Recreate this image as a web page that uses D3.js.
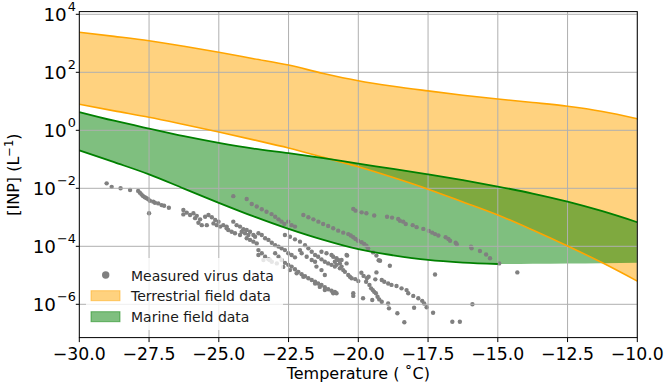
<!DOCTYPE html>
<html lang="en">
<head>
<meta charset="UTF-8">
<title>INP concentration vs temperature</title>
<script src="https://d3js.org/d3.v7.min.js"></script>
<style>
  body { margin: 0; background: #fff; }
  svg { display: block; font-family: "DejaVu Sans", sans-serif; }
</style>
</head>
<body>
<svg width="669" height="389"></svg>
<script>
// temperatures (deg C) at which the field-data envelopes were read
const temps = [-30, -28.75, -27.5, -26.25, -25, -23.75, -22.5, -21.25, -20, -18.75, -17.5, -16.25, -15, -13.75, -12.5, -11.25, -10];
// envelope values as log10([INP] per litre)
const terrUpper = [3.38, 3.24, 3.09, 2.90, 2.69, 2.47, 2.25, 1.96, 1.71, 1.52, 1.36, 1.21, 1.08, 0.96, 0.83, 0.65, 0.40];
const terrLower = [0.90, 0.67, 0.45, 0.20, -0.06, -0.33, -0.61, -0.93, -1.26, -1.63, -2.03, -2.47, -2.92, -3.44, -3.99, -4.57, -5.20];
const marUpper  = [0.63, 0.33, 0.06, -0.20, -0.43, -0.63, -0.79, -0.96, -1.15, -1.33, -1.52, -1.72, -1.94, -2.18, -2.46, -2.79, -3.17];
// marine lower edge: the line stops at -15, the shading goes on flat to -10
const marLower  = [-0.69, -1.10, -1.52, -2.01, -2.50, -2.97, -3.40, -3.78, -4.10, -4.31, -4.47, -4.56, -4.61, -4.60, -4.59, -4.58, -4.57];
const marLineEnd = -15;

// measured virus data: [temperature, log10 INP]
const virusPoints = [
  [-29.02,-1.83],[-28.84,-1.95],[-28.52,-2.00],[-28.18,-2.06],[-27.89,-2.09],[-27.83,-2.15],[-27.77,-2.21],[-27.71,-2.27],
  [-27.65,-2.31],[-27.59,-2.34],[-27.53,-2.38],[-27.47,-2.43],[-27.35,-2.46],[-27.29,-2.50],[-27.17,-2.52],[-27.05,-2.58],
  [-26.96,-2.60],[-26.79,-2.67],[-27.50,-2.86],
  [-26.27,-2.75],[-26.15,-2.84],[-26.03,-2.92],[-25.91,-2.86],[-25.79,-2.95],[-25.85,-3.03],[-25.67,-3.07],[-25.73,-3.19],
  [-25.49,-2.98],[-25.37,-2.92],[-25.25,-3.00],[-25.13,-3.09],[-25.19,-3.21],[-25.07,-3.27],[-25.01,-3.15],[-24.95,-3.32],
  [-24.84,-3.27],[-24.72,-3.32],[-24.66,-3.44],[-24.54,-3.50],[-24.42,-3.55],[-24.48,-3.15],[-24.36,-3.27],[-24.24,-3.32],
  [-24.12,-3.41],[-24.18,-3.50],[-24.06,-3.55],[-23.94,-3.61],[-24.00,-3.72],[-23.88,-3.78],[-23.76,-3.84],[-23.64,-3.90],
  [-23.70,-3.67],[-23.58,-3.55],[-23.46,-3.61],[-23.34,-3.72],[-23.22,-3.78],[-23.10,-3.88],[-22.98,-3.96],[-22.86,-4.01],
  [-22.75,-4.07],[-22.63,-4.13],[-22.51,-4.24],[-22.39,-4.30],[-22.27,-4.38],
  [-24.72,-3.38],[-24.24,-3.61],[-24.00,-3.44],[-23.88,-3.50],[-23.76,-3.61],[-26.27,-2.90],[-25.61,-3.27],[-25.43,-3.27],
  [-23.58,-4.13],[-23.46,-4.24],[-23.34,-4.36],[-23.22,-4.45],[-23.10,-4.53],[-23.40,-4.47],[-23.58,-4.30],[-23.17,-4.47],
  [-22.98,-4.24],[-22.86,-4.36],[-22.75,-4.47],[-22.63,-4.57],[-22.51,-4.64],[-22.39,-4.70],[-22.27,-4.79],[-22.15,-4.88],
  [-22.03,-4.96],[-21.91,-5.03],[-21.79,-5.10],[-21.67,-5.16],[-21.55,-5.22],[-21.44,-5.28],[-21.32,-5.33],[-21.20,-5.41],
  [-21.08,-5.48],[-20.96,-5.53],[-20.84,-5.57],
  [-22.92,-4.59],[-22.69,-4.71],[-22.45,-4.82],[-22.21,-4.93],[-21.97,-5.05],[-21.55,-5.28],[-21.38,-5.40],[-21.20,-5.51],[-20.90,-5.62],
  [-22.63,-3.61],[-22.45,-3.67],[-22.27,-3.76],[-22.09,-3.84],[-21.91,-3.96],[-21.79,-4.07],[-21.67,-4.19],[-21.55,-4.30],
  [-21.44,-4.36],[-21.32,-4.45],[-21.20,-4.53],[-21.08,-4.59],[-20.96,-4.64],[-20.84,-4.70],[-20.66,-4.76],[-20.48,-4.88],
  [-22.03,-4.24],[-21.85,-4.36],[-21.67,-4.47],[-21.55,-4.53],
  [-21.32,-4.19],[-21.14,-4.24],[-20.96,-4.30],[-20.78,-4.41],[-20.60,-4.47],[-20.42,-4.59],
  [-22.09,-4.13],[-21.50,-4.70],[-21.32,-4.82],[-21.20,-4.99],
  [-24.48,-2.27],[-24.00,-2.37],[-23.82,-2.54],[-23.64,-2.63],[-23.46,-2.72],[-23.29,-2.81],[-23.11,-2.89],[-22.98,-2.98],
  [-22.86,-3.07],[-22.75,-3.15],[-22.65,-3.23],[-22.51,-3.15],[-22.39,-3.27],[-22.27,-3.32],
  [-21.97,-2.92],[-21.79,-3.00],[-21.61,-3.07],[-21.43,-3.15],[-21.26,-3.23],[-21.08,-3.30],[-20.90,-3.38],[-20.72,-3.46],
  [-20.54,-3.53],[-20.36,-3.58],[-20.27,-3.63],[-20.18,-3.69],[-20.10,-3.75],[-20.01,-3.81],[-19.88,-3.86],[-19.79,-3.92],
  [-19.71,-3.98],[-19.65,-4.07],[-19.47,-4.21],[-19.35,-4.32],[-19.27,-4.48],[-20.40,-4.32],[-18.87,-4.67],[-19.35,-4.90],
  [-17.25,-4.97],
  [-20.18,-2.71],[-20.10,-2.77],[-19.88,-2.83],[-19.71,-2.86],[-19.43,-2.94],[-18.97,-2.98],[-18.79,-3.01],[-18.57,-3.06],
  [-18.51,-3.12],[-18.39,-3.15],[-18.30,-3.23],[-18.05,-3.27],[-17.91,-3.34],[-17.67,-3.40],[-17.47,-3.47],[-17.35,-3.53],
  [-17.25,-3.58],[-17.13,-3.63],[-16.87,-3.69],[-16.77,-3.75],[-16.71,-3.81],[-16.51,-3.88],[-16.47,-3.93],[-15.96,-4.01],
  [-15.94,-4.07],[-15.64,-4.16],[-15.42,-4.28],[-15.28,-4.41],[-14.95,-4.59],[-14.30,-4.90],
  [-20.90,-4.36],[-20.84,-4.53],[-20.78,-4.64],[-20.72,-4.47],[-20.66,-4.59],[-20.60,-4.70],[-20.54,-4.82],[-20.36,-4.99],
  [-20.30,-5.05],[-20.24,-5.10],[-20.42,-4.30],
  [-20.11,-5.13],[-20.00,-5.20],[-19.89,-4.91],[-19.81,-5.02],[-19.69,-5.10],[-19.63,-5.05],[-19.39,-5.14],[-19.16,-5.16],
  [-19.07,-5.22],[-18.93,-5.28],[-18.81,-5.33],[-18.63,-5.37],[-18.45,-5.45],[-18.27,-5.51],[-18.21,-5.62],[-18.03,-5.71],
  [-17.85,-5.79],[-17.71,-5.88],[-17.64,-5.97],[-17.55,-6.10],
  [-19.72,-5.22],[-19.60,-5.33],[-19.54,-5.45],[-19.48,-5.51],[-19.43,-5.57],[-19.37,-5.62],[-19.31,-5.74],[-19.25,-5.83],
  [-19.16,-5.91],
  [-18.93,-5.97],[-18.90,-6.14],[-18.60,-6.31],[-18.35,-6.62],[-18.00,-6.12],[-17.32,-6.29],[-16.63,-6.60],[-16.36,-6.60],
  [-19.22,-4.50],[-20.78,-5.62],[-20.18,-5.62],[-20.18,-5.71],[-19.83,-5.79],[-19.50,-5.85],[-15.91,-6.00]
];

const xTicks = [-30, -27.5, -25, -22.5, -20, -17.5, -15, -12.5, -10];
const yTickExps = [-6, -4, -2, 0, 2, 4];
const legendLabels = ["Measured virus data", "Terrestrial field data", "Marine field data"];

const svg = d3.select("svg");
const plotLeft = 79.3, plotRight = 637.3, plotTop = 11.6, plotBottom = 337.6;

const x = d3.scaleLinear().domain([-30, -10]).range([plotLeft, plotRight]);
const y = d3.scaleLog().domain([Math.pow(10, -7.148), Math.pow(10, 4.093)]).range([plotBottom, plotTop]);
const p10 = v => Math.pow(10, v);

svg.append("clipPath").attr("id", "plot-clip")
  .append("rect").attr("x", plotLeft).attr("y", plotTop)
  .attr("width", plotRight - plotLeft).attr("height", plotBottom - plotTop);

const plot = svg.append("g").attr("clip-path", "url(#plot-clip)");

const rows = temps.map((t, i) => ({t, tu: terrUpper[i], tl: terrLower[i], mu: marUpper[i], ml: marLower[i]}));

const band = (hi, lo) => d3.area()
  .x(d => x(d.t)).y0(d => y(p10(d[lo]))).y1(d => y(p10(d[hi])))
  .curve(d3.curveMonotoneX);
const edge = key => d3.line().x(d => x(d.t)).y(d => y(p10(d[key]))).curve(d3.curveMonotoneX);

plot.append("path").attr("d", band("tu", "tl")(rows)).attr("fill", "rgba(255,165,0,0.5)");
plot.append("path").attr("d", band("mu", "ml")(rows)).attr("fill", "rgba(0,128,0,0.5)");

plot.selectAll("circle.virus").data(virusPoints).join("circle")
  .attr("class", "virus")
  .attr("cx", d => x(d[0])).attr("cy", d => y(p10(d[1])))
  .attr("r", 2.2).attr("fill", "#808080");

// grid
plot.selectAll("line.gx").data(xTicks).join("line").attr("class", "gx")
  .attr("x1", d => x(d)).attr("x2", d => x(d)).attr("y1", plotTop).attr("y2", plotBottom)
  .attr("stroke", "#b0b0b0").attr("stroke-width", 1);
plot.selectAll("line.gy").data(yTickExps).join("line").attr("class", "gy")
  .attr("x1", plotLeft).attr("x2", plotRight).attr("y1", d => y(p10(d))).attr("y2", d => y(p10(d)))
  .attr("stroke", "#b0b0b0").attr("stroke-width", 1);

plot.append("path").attr("d", edge("tu")(rows)).attr("fill", "none").attr("stroke", "#ffa500").attr("stroke-width", 1.6);
plot.append("path").attr("d", edge("tl")(rows)).attr("fill", "none").attr("stroke", "#ffa500").attr("stroke-width", 1.6);
plot.append("path").attr("d", edge("mu")(rows)).attr("fill", "none").attr("stroke", "#008000").attr("stroke-width", 1.8);
plot.append("path").attr("d", edge("ml")(rows.filter(d => d.t <= marLineEnd))).attr("fill", "none").attr("stroke", "#008000").attr("stroke-width", 1.8);

// frame
svg.append("rect").attr("x", plotLeft).attr("y", plotTop)
  .attr("width", plotRight - plotLeft).attr("height", plotBottom - plotTop)
  .attr("fill", "none").attr("stroke", "#000").attr("stroke-width", 1);

// x ticks
const xAxis = svg.append("g");
xTicks.forEach(t => {
  xAxis.append("line").attr("x1", x(t)).attr("x2", x(t)).attr("y1", plotBottom).attr("y2", plotBottom + 4.5)
    .attr("stroke", "#000").attr("stroke-width", 1);
  xAxis.append("text").attr("x", x(t)).attr("y", plotBottom + 22.5)
    .attr("text-anchor", "middle").attr("font-size", 17.3).attr("fill", "#000")
    .text(d3.format(".1f")(t).replace("-", "\u2212"));
});

// y ticks
const yAxis = svg.append("g");
yTickExps.forEach(e => {
  const yy = y(p10(e));
  yAxis.append("line").attr("x1", plotLeft - 3.5).attr("x2", plotLeft).attr("y1", yy).attr("y2", yy)
    .attr("stroke", "#000").attr("stroke-width", 1);
  const txt = yAxis.append("text").attr("x", plotLeft - 3.5).attr("y", yy + 6.6)
    .attr("text-anchor", "end").attr("font-size", 18.3).attr("fill", "#000");
  txt.append("tspan").text("10");
  txt.append("tspan").attr("dx", 1).attr("dy", -10.3).attr("font-size", 12.8)
    .text(String(e).replace("-", "\u2212"));
});

// axis labels
svg.append("text").attr("x", (plotLeft + plotRight) / 2).attr("y", 379)
  .attr("text-anchor", "middle").attr("font-size", 16).attr("fill", "#000")
  .text("Temperature ( \u02DAC)");

const yl = svg.append("text").attr("transform", `translate(18.7,${(plotTop + plotBottom) / 2}) rotate(-90)`)
  .attr("text-anchor", "middle").attr("font-size", 16).attr("fill", "#000");
yl.append("tspan").text("[INP] (L");
yl.append("tspan").attr("dy", -6).attr("font-size", 11.5).text("\u22121");
yl.append("tspan").attr("dy", 6).text(")");

// legend
const lg = svg.append("g");
lg.append("rect").attr("x", 86).attr("y", 258).attr("width", 197).attr("height", 72)
  .attr("fill", "rgba(255,255,255,0.8)");
lg.append("circle").attr("cx", 105.7).attr("cy", 275).attr("r", 3.7).attr("fill", "#808080");
lg.append("rect").attr("x", 91).attr("y", 290.7).attr("width", 29).attr("height", 10)
  .attr("fill", "rgba(255,165,0,0.5)").attr("stroke", "rgba(255,165,0,0.5)").attr("stroke-width", 1);
lg.append("rect").attr("x", 91).attr("y", 311.7).attr("width", 29).attr("height", 10)
  .attr("fill", "rgba(0,128,0,0.5)").attr("stroke", "rgba(0,128,0,0.5)").attr("stroke-width", 1);
[281, 301, 321.7].forEach((by, i) => {
  lg.append("text").attr("x", 131).attr("y", by).attr("font-size", 14).attr("fill", "#1a1a1a")
    .text(legendLabels[i]);
});
</script>
</body>
</html>
